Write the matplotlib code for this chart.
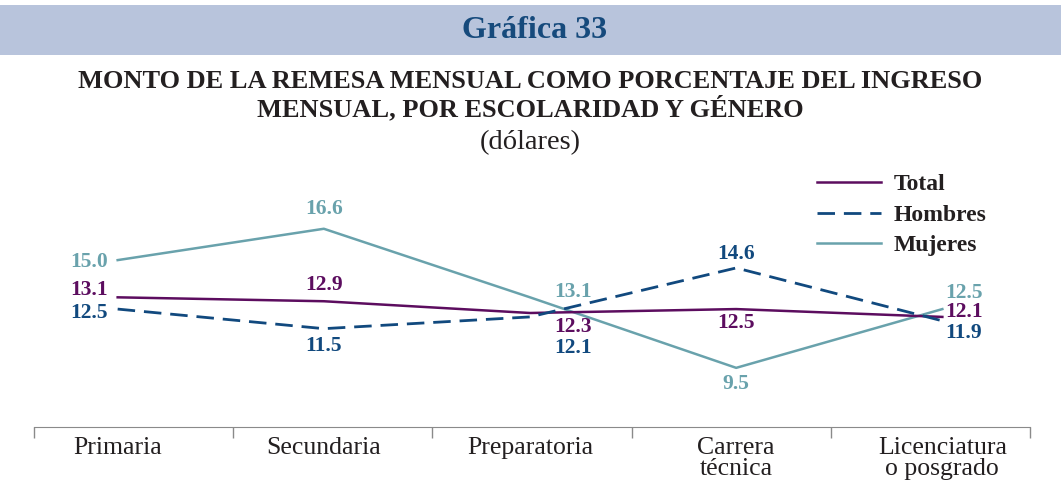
import matplotlib
matplotlib.use("Agg")
import matplotlib.pyplot as plt
import matplotlib.patches as patches
import numpy as np

plt.rcParams['font.family'] = ['Liberation Serif', 'DejaVu Serif']

# categories and series
categorias = ['Primaria', 'Secundaria', 'Preparatoria', 'Carrera\ntécnica', 'Licenciatura\no posgrado']
total = [13.1, 12.9, 12.3, 12.5, 12.1]
hombres = [12.5, 11.5, 12.1, 14.6, 11.9]
mujeres = [15.0, 16.6, 13.1, 9.5, 12.5]

c_total = '#5c0d5f'
c_hombres = '#11497e'
c_mujeres = '#69a2ac'
c_texto = '#231f20'

fig = plt.figure(figsize=(10.61, 4.99), dpi=100)

# header band
fig.patches.append(patches.Rectangle((0, 1 - 55/499), 1, 50/499, transform=fig.transFigure,
                                     facecolor='#b8c4dc', edgecolor='none', zorder=0))
fig.text(0.504, 1 - 30/499, 'Gráfica 33', ha='center', va='center', fontsize=23,
         fontweight='bold', color='#164a7c')
fig.text(0.5, 1 - 96/499, 'MONTO DE LA REMESA MENSUAL COMO PORCENTAJE DEL INGRESO\nMENSUAL, POR ESCOLARIDAD Y GÉNERO',
         ha='center', va='center', fontsize=19, fontweight='bold', color=c_texto, linespacing=1.12)
fig.text(0.5, 1 - 143/499, '(dólares)', ha='center', va='center', fontsize=20.5, color=c_texto)

ax = fig.add_axes([34/1061, 72/499, 996/1061, 257/499])
x = 0.42 + 1.035 * np.arange(len(categorias))

ax.plot(x, total, color=c_total, lw=1.8, label='Total', zorder=3)
ax.plot(x, hombres, color=c_hombres, lw=2.0, ls=(0, (6.3, 3.2)), label='Hombres', zorder=3)
ax.plot(x, mujeres, color=c_mujeres, lw=1.8, label='Mujeres', zorder=2)

# value labels: (dx, dy, ha) in pixels per point
pos_total = [(-10, 7, 'right'), (0, 16, 'center'), (43, -14, 'center'), (0, -14, 'center'), (3, 5, 'left')]
pos_hombres = [(-10, -4, 'right'), (0, -17, 'center'), (43, -31, 'center'), (0, 14, 'center'), (3, -12, 'left')]
pos_mujeres = [(-10, -2, 'right'), (0, 20, 'center'), (43, 5, 'center'), (0, -16, 'center'), (3, 16, 'left')]

for serie, pos, col in [(total, pos_total, c_total), (hombres, pos_hombres, c_hombres),
                        (mujeres, pos_mujeres, c_mujeres)]:
    for xi, v, (dx, dy, ha) in zip(x, serie, pos):
        ax.annotate(f'{v:.1f}', (xi, v), xytext=(dx, dy), textcoords='offset pixels',
                    ha=ha, va='center', fontsize=15.5, fontweight='bold', color=col)

ax.set_xlim(0, 5)
ax.set_ylim(6.48, 19.6)
ax.set_yticks([])
ax.set_xticks(x)
ax.set_xticklabels(categorias, fontsize=18.5, color=c_texto, linespacing=0.95)
ax.tick_params(axis='x', which='major', length=0, pad=7)
ax.set_xticks(np.arange(6), minor=True)
ax.tick_params(axis='x', which='minor', length=8, color='#8a8a8a', width=1)
for s in ['top', 'left', 'right']:
    ax.spines[s].set_visible(False)
ax.spines['bottom'].set_color('#8a8a8a')

leg = ax.legend(loc='upper left', bbox_to_anchor=(783/996, 0.985), frameon=False,
                prop={'weight': 'bold', 'size': 17}, handlelength=2.7, labelspacing=0.38,
                handletextpad=0.55, borderpad=0, borderaxespad=0)
for t in leg.get_texts():
    t.set_color(c_texto)

fig.savefig('out.png', dpi=100)
